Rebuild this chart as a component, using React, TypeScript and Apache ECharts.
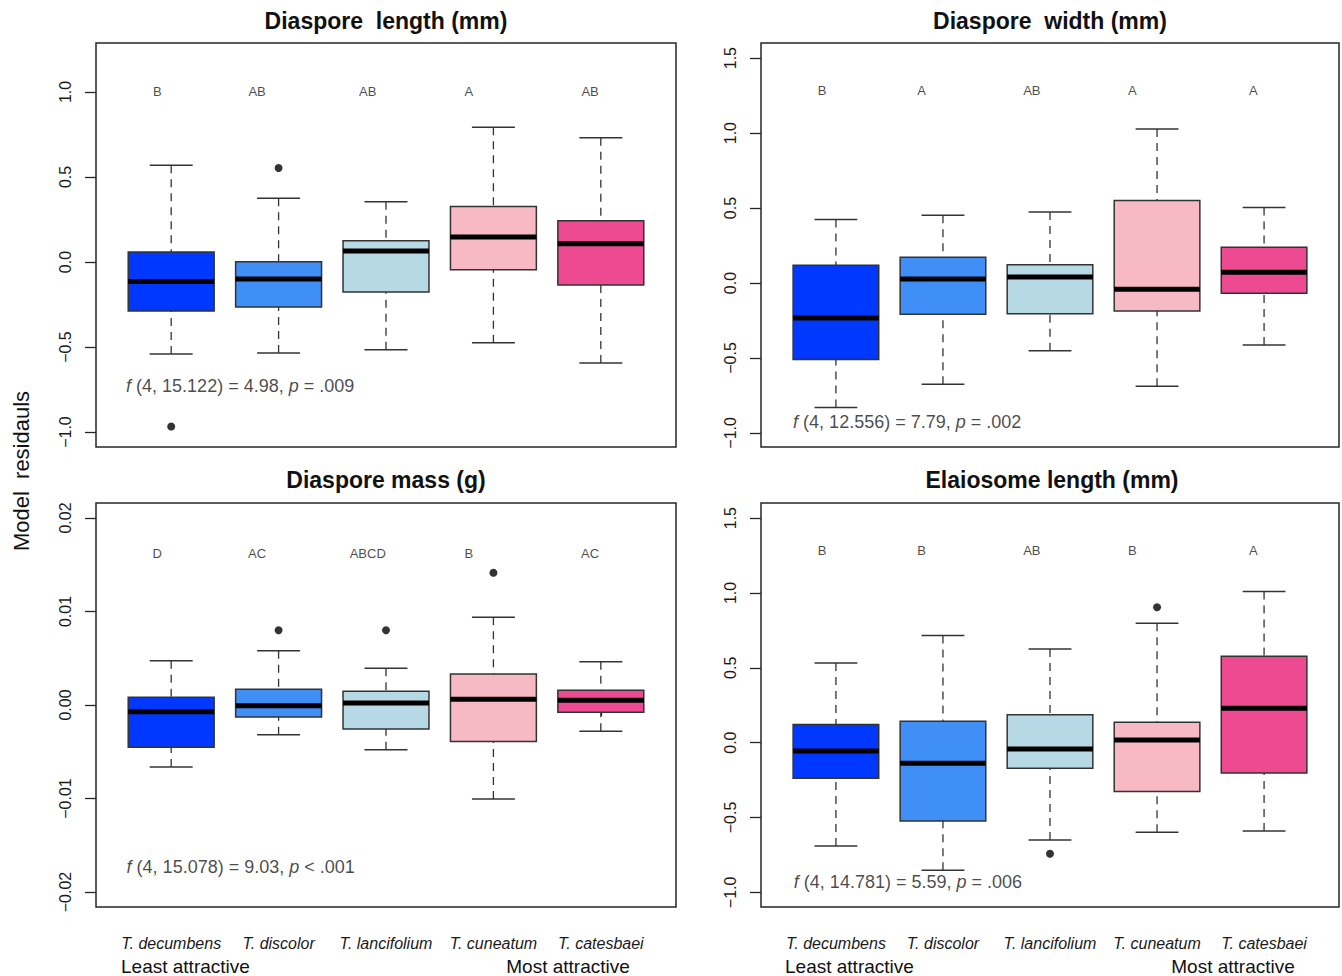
import React, { useEffect, useRef } from "react";
import * as echarts from "echarts";

const species = ["T. decumbens", "T. discolor", "T. lancifolium", "T. cuneatum", "T. catesbaei"];
const boxColors = ["#0038FF", "#3F8FF6", "#B7D9E6", "#F7B9C3", "#EE4A91"];

// each box: [lower whisker, Q1, median, Q3, upper whisker]
const lengthBoxes = [
  [-0.541, -0.288, -0.114, 0.059, 0.569],
  [-0.535, -0.265, -0.1, 0.002, 0.375],
  [-0.516, -0.176, 0.065, 0.125, 0.355],
  [-0.475, -0.045, 0.147, 0.327, 0.792],
  [-0.594, -0.135, 0.108, 0.243, 0.731],
];
const lengthOutliers = [[1, -0.967], [2, 0.553]];
const lengthLetters = ["B", "AB", "AB", "A", "AB"];
const lengthStat = { df: "4, 15.122", f: "4.98", p: "= .009" };

const widthBoxes = [
  [-0.831, -0.51, -0.234, 0.118, 0.423],
  [-0.675, -0.209, 0.027, 0.171, 0.452],
  [-0.452, -0.205, 0.04, 0.122, 0.474],
  [-0.688, -0.187, -0.042, 0.55, 1.027],
  [-0.414, -0.069, 0.071, 0.238, 0.503],
];
const widthOutliers: number[][] = [];
const widthLetters = ["B", "A", "AB", "A", "A"];
const widthStat = { df: "4, 12.556", f: "7.79", p: "= .002" };

const massBoxes = [
  [-0.00663, -0.00453, -0.00071, 0.00082, 0.00474],
  [-0.00317, -0.00128, -0.00007, 0.00168, 0.00581],
  [-0.00478, -0.00257, 0.00021, 0.00146, 0.00392],
  [-0.01005, -0.00389, 0.00061, 0.00332, 0.00938],
  [-0.00282, -0.00078, 0.0005, 0.00157, 0.00463],
];
const massOutliers = [[2, 0.00799], [3, 0.00799], [4, 0.01415]];
const massLetters = ["D", "AC", "ABCD", "B", "AC"];
const massStat = { df: "4, 15.078", f: "9.03", p: "< .001" };

const elaioBoxes = [
  [-0.69, -0.238, -0.056, 0.122, 0.532],
  [-0.853, -0.523, -0.138, 0.143, 0.715],
  [-0.65, -0.171, -0.042, 0.187, 0.626],
  [-0.599, -0.327, 0.018, 0.136, 0.797],
  [-0.59, -0.203, 0.229, 0.577, 1.009],
];
const elaioOutliers = [[3, -0.742], [4, 0.904]];
const elaioLetters = ["B", "B", "AB", "B", "A"];
const elaioStat = { df: "4, 14.781", f: "5.59", p: "= .006" };

const titles = ["Diaspore  length (mm)", "Diaspore  width (mm)", "Diaspore mass (g)", "Elaiosome length (mm)"];
const yTicksLarge = [-1, -0.5, 0, 0.5, 1];
const yTicksWide = [-1, -0.5, 0, 0.5, 1, 1.5];
const yTicksMass = [-0.02, -0.01, 0, 0.01, 0.02];

const FONT = "'Liberation Sans', Arial, Helvetica, sans-serif";
const LETTER_X = [0.87, 1.8, 2.83, 3.77, 4.9];

const panels = [
  { boxes: lengthBoxes, outliers: lengthOutliers, letters: lengthLetters, stat: lengthStat, ticks: yTicksLarge, dec: 1,
    grid: { left: 96, top: 43, width: 580, height: 404 }, yMin: -1.088, yMax: 1.288, letterY: 1.0, statX: 0.58, statY: -0.731, bottom: false },
  { boxes: widthBoxes, outliers: widthOutliers, letters: widthLetters, stat: widthStat, ticks: yTicksWide, dec: 1,
    grid: { left: 761, top: 43, width: 578, height: 404 }, yMin: -1.094, yMax: 1.601, letterY: 1.282, statX: 0.6, statY: -0.926, bottom: false },
  { boxes: massBoxes, outliers: massOutliers, letters: massLetters, stat: massStat, ticks: yTicksMass, dec: 2,
    grid: { left: 96, top: 503, width: 580, height: 404 }, yMin: -0.0216, yMax: 0.0216, letterY: 0.01615, statX: 0.585, statY: -0.01733, bottom: true },
  { boxes: elaioBoxes, outliers: elaioOutliers, letters: elaioLetters, stat: elaioStat, ticks: yTicksWide, dec: 1,
    grid: { left: 761, top: 503, width: 578, height: 404 }, yMin: -1.098, yMax: 1.601, letterY: 1.285, statX: 0.607, statY: -0.931, bottom: true },
];

function fmt(v: number, dec: number) {
  return v.toFixed(dec).replace("-", "\u2212");
}

export default function App() {
  const ref = useRef<HTMLDivElement>(null);
  useEffect(() => {
    if (!ref.current) return;
    const chart = echarts.init(ref.current, null, { renderer: "svg" });

    const grids: any[] = [];
    const xAxes: any[] = [];
    const yAxes: any[] = [];
    const series: any[] = [];

    panels.forEach((p, gi) => {
      grids.push({ ...p.grid, show: true, borderColor: "#262626", borderWidth: 1.5, backgroundColor: "transparent" });
      xAxes.push({
        type: "value", gridIndex: gi, min: 0.3, max: 5.7,
        axisLine: { show: false }, splitLine: { show: false },
        axisTick: { show: p.bottom, customValues: [1, 2, 3, 4, 5], length: 11, lineStyle: { color: "#262626", width: 1.3 } },
        axisLabel: {
          show: p.bottom, customValues: [1, 2, 3, 4, 5], margin: 28,
          formatter: (v: number) => species[Math.round(v) - 1] || "",
          fontStyle: "italic", fontSize: 16, color: "#1a1a1a", fontFamily: FONT,
        },
      });
      yAxes.push({
        type: "value", gridIndex: gi, min: p.yMin, max: p.yMax,
        axisLine: { show: false }, splitLine: { show: false },
        axisTick: { show: true, customValues: p.ticks, length: 11, lineStyle: { color: "#262626", width: 1.3 } },
        axisLabel: {
          customValues: p.ticks, rotate: 90, margin: 23, fontSize: 16, color: "#1a1a1a", fontFamily: FONT,
          formatter: (v: number) => fmt(v, p.dec),
        },
      });
      series.push({
        type: "custom", xAxisIndex: gi, yAxisIndex: gi,
        data: p.boxes.map((b, i) => [i + 1, ...b]),
        encode: { x: 0, y: [1, 2, 3, 4, 5] },
        renderItem: (params: any, api: any) => {
          const x = api.value(0);
          const lo = api.value(1), q1 = api.value(2), med = api.value(3), q3 = api.value(4), hi = api.value(5);
          const half = 0.4, cap = 0.2;
          const tl = api.coord([x - half, q3]);
          const br = api.coord([x + half, q1]);
          const mL = api.coord([x - half, med]);
          const mR = api.coord([x + half, med]);
          const pHi = api.coord([x, hi]);
          const pQ3 = api.coord([x, q3]);
          const pLo = api.coord([x, lo]);
          const pQ1 = api.coord([x, q1]);
          const cHiL = api.coord([x - cap, hi]);
          const cHiR = api.coord([x + cap, hi]);
          const cLoL = api.coord([x - cap, lo]);
          const cLoR = api.coord([x + cap, lo]);
          const dash = { stroke: "#333", lineWidth: 1.3, lineDash: [8, 6] };
          const solid = { stroke: "#333", lineWidth: 1.5 };
          return {
            type: "group",
            children: [
              { type: "line", shape: { x1: pHi[0], y1: pHi[1], x2: pQ3[0], y2: pQ3[1] }, style: dash },
              { type: "line", shape: { x1: pLo[0], y1: pLo[1], x2: pQ1[0], y2: pQ1[1] }, style: dash },
              { type: "line", shape: { x1: cHiL[0], y1: cHiL[1], x2: cHiR[0], y2: cHiR[1] }, style: solid },
              { type: "line", shape: { x1: cLoL[0], y1: cLoL[1], x2: cLoR[0], y2: cLoR[1] }, style: solid },
              {
                type: "rect",
                shape: { x: tl[0], y: tl[1], width: br[0] - tl[0], height: br[1] - tl[1] },
                style: { fill: boxColors[params.dataIndex], stroke: "#333", lineWidth: 1.5 },
              },
              { type: "line", shape: { x1: mL[0], y1: mL[1], x2: mR[0], y2: mR[1] }, style: { stroke: "#000", lineWidth: 5 } },
            ],
          };
        },
      });
      series.push({
        type: "scatter", xAxisIndex: gi, yAxisIndex: gi,
        data: p.outliers, symbol: "circle", symbolSize: 8, itemStyle: { color: "#000" },
      });
      series.push({
        type: "scatter", xAxisIndex: gi, yAxisIndex: gi, symbolSize: 0,
        data: p.letters.map((l, i) => ({ value: [LETTER_X[i], p.letterY], name: l })),
        label: { show: true, position: "inside", formatter: "{b}", fontSize: 13, color: "#1a1a1a", fontFamily: FONT },
      });
      series.push({
        type: "scatter", xAxisIndex: gi, yAxisIndex: gi, symbolSize: 0,
        data: [{ value: [p.statX, p.statY], name: "stat" }],
        label: {
          show: true, position: "right", distance: 0,
          formatter: `{i|f} (${p.stat.df}) = ${p.stat.f}, {i|p} ${p.stat.p}`,
          fontSize: 18, color: "#1a1a1a", fontFamily: FONT,
          rich: { i: { fontStyle: "italic", fontSize: 18, color: "#1a1a1a", fontFamily: FONT } },
        },
      });
    });

    const txt = (text: string, x: number, y: number, extra: any = {}) => ({
      type: "text", x, y,
      style: { text, fill: "#111", font: `20px ${FONT}`, textAlign: "center", textVerticalAlign: "middle", ...extra },
    });

    const graphic: any[] = [
      txt(titles[0], 386, 21, { font: `bold 23px ${FONT}` }),
      txt(titles[1], 1050, 21, { font: `bold 23px ${FONT}` }),
      txt(titles[2], 386, 480, { font: `bold 23px ${FONT}` }),
      txt(titles[3], 1052, 480, { font: `bold 23px ${FONT}` }),
      { ...txt("Model  residauls", 0, 0, { font: `22px ${FONT}` }), x: 21, y: 471, rotation: Math.PI / 2 },
      txt("Least attractive", 121, 966, { font: `19px ${FONT}`, textAlign: "left" }),
      txt("Most attractive", 568, 966, { font: `19px ${FONT}` }),
      txt("Least attractive", 785, 966, { font: `19px ${FONT}`, textAlign: "left" }),
      txt("Most attractive", 1233, 966, { font: `19px ${FONT}` }),
    ];

    chart.setOption({
      animation: false,
      backgroundColor: "#fff",
      grid: grids,
      xAxis: xAxes,
      yAxis: yAxes,
      series,
      graphic,
    });
    return () => chart.dispose();
  }, []);
  return <div ref={ref} style={{ position: "fixed", left: 0, top: 0, width: 1342, height: 976 }} />;
}
